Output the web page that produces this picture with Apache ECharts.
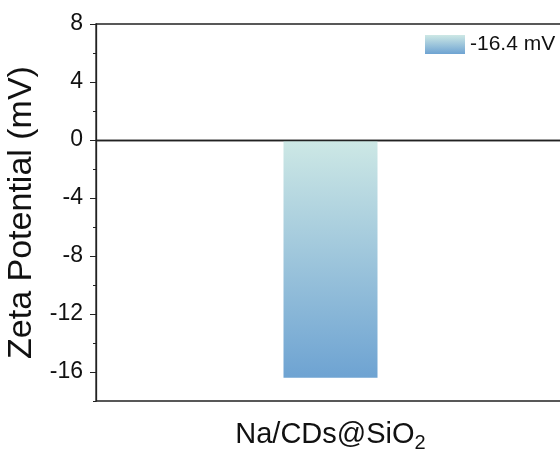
<!DOCTYPE html>
<html>
<head>
<meta charset="utf-8">
<script src="https://cdn.jsdelivr.net/npm/echarts@6/dist/echarts.min.js"></script>
<style>html,body{margin:0;padding:0;background:#fff}#c{width:560px;height:456px}</style>
</head>
<body>
<div id="c"></div>
<script>
var categories = ['Na/CDs@SiO2'];
var seriesName = '-16.4 mV';
var values = [-16.4];
var yMin = -18, yMax = 8;
var yTickLabels = [-16, -12, -8, -4, 0, 4, 8];
var yMinorInterval = 2;

var chart = echarts.init(document.getElementById('c'), null, { renderer: 'canvas' });
var grad = new echarts.graphic.LinearGradient(0, 0, 0, 1, [
  { offset: 0, color: '#cde8e5' },
  { offset: 1, color: '#6ea3d2' }
]);
var font = 'Arial, "Liberation Sans", sans-serif';
var ink = '#111';
var axisColor = '#222';
chart.setOption({
  animation: false,
  backgroundColor: '#fff',
  textStyle: { fontFamily: font },
  grid: { left: 96, top: 24, right: -5, bottom: 55, outerBoundsMode: 'none', containLabel: false,
          show: true, borderColor: axisColor, borderWidth: 1.3, backgroundColor: 'transparent' },
  legend: {
    show: true, left: 425, top: 34, padding: 0, itemWidth: 40, itemHeight: 19,
    textStyle: { fontSize: 21, color: ink, fontFamily: font },
    data: [{ name: seriesName, icon: 'rect' }]
  },
  xAxis: {
    type: 'category', data: categories,
    axisLine: { lineStyle: { color: axisColor, width: 1.3 } },
    axisTick: { show: true, alignWithLabel: true, length: 5, lineStyle: { color: axisColor } },
    axisLabel: {
      margin: 15,
      formatter: function (v) { return '{a|' + v.replace(/2$/, '') + '}{s|2}'; },
      rich: {
        a: { fontSize: 29, color: ink, fontFamily: font },
        s: { fontSize: 20, color: ink, fontFamily: font, padding: [17, 0, 0, 0] }
      }
    }
  },
  yAxis: [{
    type: 'value', min: yMin, max: yMax,
    name: 'Zeta Potential (mV)', nameLocation: 'middle', nameGap: 53,
    nameTextStyle: { fontSize: 34, color: ink, fontFamily: font },
    axisLine: { show: true, lineStyle: { color: axisColor, width: 1.3 } },
    axisTick: { show: true, length: 6, customValues: yTickLabels, lineStyle: { color: axisColor } },
    axisLabel: { fontSize: 23, color: ink, margin: 13, fontFamily: font, customValues: yTickLabels },
    splitLine: { show: false }
  }, {
    type: 'value', min: yMin, max: yMax, interval: yMinorInterval, position: 'left',
    axisLine: { show: false },
    axisTick: { show: true, length: 3, lineStyle: { color: axisColor } },
    axisLabel: { show: false },
    splitLine: { show: false }
  }],
  series: [{
    name: seriesName, type: 'bar', data: values, barWidth: 94, yAxisIndex: 0,
    itemStyle: { color: grad },
    markLine: {
      silent: true, symbol: 'none', label: { show: false },
      lineStyle: { color: axisColor, width: 1.3, type: 'solid' },
      data: [{ yAxis: 0 }]
    }
  }]
});
</script>
</body>
</html>
